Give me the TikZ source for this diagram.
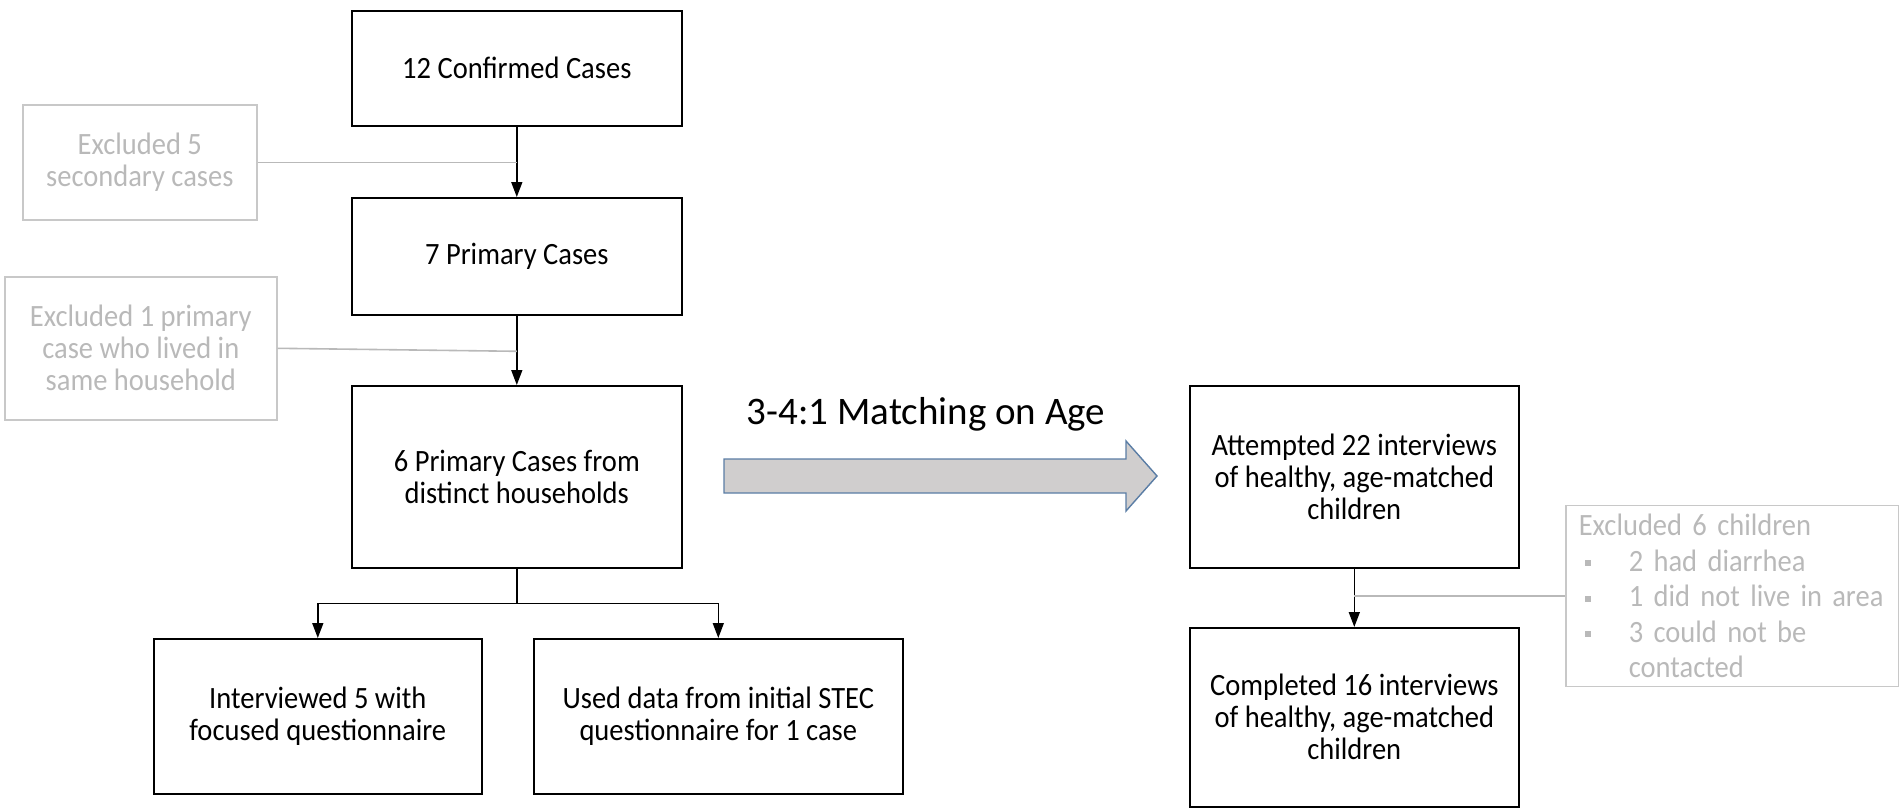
\documentclass[tikz,border=0pt]{standalone}
\usepackage{fontspec}
\setmainfont{Carlito}[FakeStretch=0.92]
\newfontfamily\labelfont{Carlito}
\usetikzlibrary{arrows.meta,calc}
\definecolor{exgray}{RGB}{185,185,185}
\definecolor{exborder}{RGB}{200,200,200}
\definecolor{arrfill}{RGB}{208,206,206}
\definecolor{arrdraw}{RGB}{90,125,165}
\newcommand\bulsq{\makebox[50pt][l]{\hspace{6pt}\rule[5pt]{6pt}{6pt}}}
\tikzset{
  flowbox/.style={draw=black, line width=1.6pt, anchor=north west, align=center,
    inner sep=0pt, font=\fontsize{31}{32}\selectfont},
  exbox/.style={draw=exborder, line width=1.6pt, anchor=north west, align=center,
    inner sep=0pt, text=exgray, font=\fontsize{31}{32}\selectfont},
  arr/.style={draw=black, line width=1.6pt, -{Triangle[length=15pt,width=11pt]}},
  plain/.style={draw=black, line width=1.6pt},
  gline/.style={draw=exgray, line width=1.6pt},
}
\begin{document}
\begin{tikzpicture}[x=1pt,y=-1pt]
\useasboundingbox (0,0) rectangle (1899,808);
% main column
\node[flowbox, minimum width=330pt, minimum height=115pt] (A) at (351,10) {12 Confirmed Cases};
\node[flowbox, minimum width=330pt, minimum height=117pt] (B) at (351,197) {7 Primary Cases};
\node[flowbox, minimum width=330pt, minimum height=182pt] (C) at (351,385) {6 Primary Cases from\\distinct households};
\node[flowbox, minimum width=328pt, minimum height=155pt] (D) at (153,638) {Interviewed 5 with\\focused questionnaire};
\node[flowbox, minimum width=369pt, minimum height=155pt] (E) at (533,638) {Used data from initial STEC\\questionnaire for 1 case};
% exclusion boxes
\node[exbox, minimum width=234pt, minimum height=115pt] (X5) at (22,104) {Excluded 5\\secondary cases};
\node[exbox, minimum width=272pt, minimum height=143pt] (X1) at (4,276) {Excluded 1 primary\\case who lived in\\same household};
% right column
\node[flowbox, minimum width=329pt, minimum height=182pt] (F) at (1189,385) {Attempted 22 interviews\\of healthy, age-matched\\children};
\node[flowbox, minimum width=329pt, minimum height=179pt] (G) at (1189,627) {Completed 16 interviews\\of healthy, age-matched\\children};
\node[exbox, text width=333pt, minimum height=181pt, align=left, anchor=west,
      font=\fontsize{31}{35.5}\selectfont] (X6) at (1565,596)
  {\hspace*{13pt}Excluded 6 children\\
   \hspace*{13pt}\bulsq 2 had diarrhea\\
   \hspace*{13pt}\bulsq 1 did not live in area\\
   \hspace*{13pt}\bulsq 3 could not be\\
   \hspace*{63pt}contacted};
% connectors
\draw[arr] (A.south) -- (B.north);
\draw[arr] (B.south) -- (C.north);
\draw[plain] (C.south) -- ++(0,35) coordinate (j);
\draw[arr] (j) -| (D.north);
\draw[arr] (j) -| (E.north);
\draw[arr] (F.south) -- (G.north);
\draw[gline] (X5.east) -- (A.south |- X5.east);
\draw[gline] (X1.east) -- ($(B.south |- X1.east)+(0,3)$);
\draw[gline] (F.south |- X6.west) -- (X6.west);
% big arrow
\draw[fill=arrfill, draw=arrdraw, line width=1.4pt, line join=miter]
  (724,459) -- (1126,459) -- (1126,441) -- (1157,476) -- (1126,511) -- (1126,493) -- (724,493) -- cycle;
\node[font=\labelfont\fontsize{39}{44}\selectfont] (M) at (926,414) {3-4:1 Matching on Age};
\end{tikzpicture}
\end{document}
